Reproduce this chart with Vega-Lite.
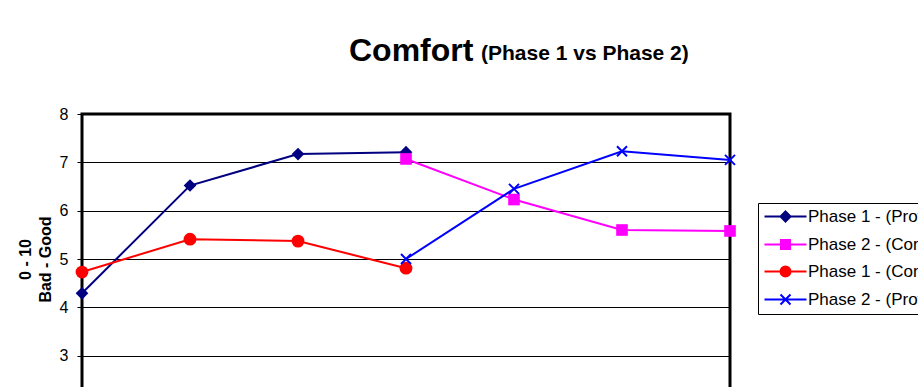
{
  "$schema": "https://vega.github.io/schema/vega-lite/v6.json",
  "width": 648,
  "height": 290,
  "padding": {"left": 17, "top": 35, "right": 0, "bottom": 0},
  "background": "white",
  "title": {
    "text": "Comfort",
    "subtitle": "(Phase 1 vs Phase 2)",
    "anchor": "start",
    "frame": "group",
    "dx": 267,
    "font": "Liberation Sans",
    "fontSize": 32,
    "fontWeight": "bold",
    "color": "black",
    "subtitleFont": "Liberation Sans",
    "subtitleFontSize": 21,
    "subtitleFontWeight": "bold",
    "subtitleColor": "black",
    "subtitlePadding": -27,
    "offset": 38,
    "encode": {"subtitle": {"update": {"dx": {"value": 399}, "dy": {"value": 2}}}}
  },
  "config": {
    "view": {"stroke": "black", "strokeWidth": 3},
    "font": "Liberation Sans",
    "legend": {
      "strokeColor": "black",
      "padding": 5,
      "labelFont": "Liberation Sans",
      "labelFontSize": 17,
      "labelColor": "black",
      "labelOffset": 28,
      "labelLimit": 400,
      "symbolSize": 100,
      "symbolStrokeWidth": 2,
      "symbolOpacity": 1,
      "rowPadding": 9
    }
  },
  "data": {
    "values": [
      {"x": 1, "series": "Phase 1 - (Prototype)", "value": 4.29},
      {"x": 2, "series": "Phase 1 - (Prototype)", "value": 6.52},
      {"x": 3, "series": "Phase 1 - (Prototype)", "value": 7.17},
      {"x": 4, "series": "Phase 1 - (Prototype)", "value": 7.21},
      {"x": 4, "series": "Phase 2 - (Control)", "value": 7.07},
      {"x": 5, "series": "Phase 2 - (Control)", "value": 6.23},
      {"x": 6, "series": "Phase 2 - (Control)", "value": 5.6},
      {"x": 7, "series": "Phase 2 - (Control)", "value": 5.58},
      {"x": 1, "series": "Phase 1 - (Control)", "value": 4.73},
      {"x": 2, "series": "Phase 1 - (Control)", "value": 5.41},
      {"x": 3, "series": "Phase 1 - (Control)", "value": 5.37},
      {"x": 4, "series": "Phase 1 - (Control)", "value": 4.81},
      {"x": 4, "series": "Phase 2 - (Prototype)", "value": 5.0},
      {"x": 5, "series": "Phase 2 - (Prototype)", "value": 6.45},
      {"x": 6, "series": "Phase 2 - (Prototype)", "value": 7.23},
      {"x": 7, "series": "Phase 2 - (Prototype)", "value": 7.05}
    ]
  },
  "encoding": {
    "x": {"field": "x", "type": "quantitative", "scale": {"domain": [1, 7], "nice": false, "zero": false}, "axis": null},
    "y": {
      "field": "value",
      "type": "quantitative",
      "scale": {"domain": [2, 8], "nice": false, "zero": false},
      "axis": {
        "values": [2, 3, 4, 5, 6, 7, 8],
        "title": ["0 - 10", "Bad - Good"],
        "titleFont": "Liberation Sans",
        "titleFontSize": 16,
        "titleFontWeight": "bold",
        "titleColor": "black",
        "titleLineHeight": 20,
        "titlePadding": 6,
        "labelFont": "Liberation Sans",
        "labelFontSize": 16,
        "labelColor": "black",
        "labelPadding": 9,
        "tickColor": "black",
        "tickSize": 5,
        "domain": false,
        "grid": true,
        "gridColor": "black",
        "gridOpacity": 1,
        "gridWidth": 1
      }
    }
  },
  "layer": [
    {
      "transform": [{"filter": "datum.series === 'Phase 1 - (Prototype)'"}],
      "mark": {"type": "line", "strokeWidth": 2, "color": "#000080"}
    },
    {
      "transform": [{"filter": "datum.series === 'Phase 2 - (Control)'"}],
      "mark": {"type": "line", "strokeWidth": 2, "color": "#FF00FF"}
    },
    {
      "transform": [{"filter": "datum.series === 'Phase 1 - (Control)'"}],
      "mark": {"type": "line", "strokeWidth": 2, "color": "#FF0000"}
    },
    {
      "transform": [{"filter": "datum.series === 'Phase 2 - (Prototype)'"}],
      "mark": {"type": "line", "strokeWidth": 2, "color": "#0000FF"}
    },
    {
      "transform": [{"filter": "datum.series === 'Phase 1 - (Prototype)'"}],
      "mark": {"type": "point", "filled": true, "shape": "diamond", "size": 160, "opacity": 1, "color": "#000080"}
    },
    {
      "transform": [{"filter": "datum.series === 'Phase 2 - (Control)'"}],
      "mark": {"type": "point", "filled": true, "shape": "square", "size": 135, "opacity": 1, "color": "#FF00FF"}
    },
    {
      "transform": [{"filter": "datum.series === 'Phase 1 - (Control)'"}],
      "mark": {"type": "point", "filled": true, "shape": "circle", "size": 165, "opacity": 1, "color": "#FF0000"}
    },
    {
      "transform": [{"filter": "datum.series === 'Phase 2 - (Prototype)'"}],
      "mark": {"type": "point", "filled": false, "shape": "M-1,-1L1,1M-1,1L1,-1", "size": 100, "strokeWidth": 2, "opacity": 1, "color": "#0000FF"}
    },
    {
      "mark": {"type": "point", "opacity": 0},
      "encoding": {
        "fill": {
          "field": "series",
          "type": "nominal",
          "sort": ["Phase 1 - (Prototype)", "Phase 2 - (Control)", "Phase 1 - (Control)", "Phase 2 - (Prototype)"],
          "scale": {
            "domain": ["Phase 1 - (Prototype)", "Phase 2 - (Control)", "Phase 1 - (Control)", "Phase 2 - (Prototype)"],
            "range": ["#000080", "#FF00FF", "#FF0000", "#0000FF"]
          },
          "legend": {"title": null, "orient": "none", "legendX": 676, "legendY": 89}
        },
        "stroke": {
          "field": "series",
          "type": "nominal",
          "sort": ["Phase 1 - (Prototype)", "Phase 2 - (Control)", "Phase 1 - (Control)", "Phase 2 - (Prototype)"],
          "scale": {
            "domain": ["Phase 1 - (Prototype)", "Phase 2 - (Control)", "Phase 1 - (Control)", "Phase 2 - (Prototype)"],
            "range": ["#000080", "#FF00FF", "#FF0000", "#0000FF"]
          },
          "legend": {"title": null, "orient": "none", "legendX": 676, "legendY": 89}
        },
        "shape": {
          "field": "series",
          "type": "nominal",
          "sort": ["Phase 1 - (Prototype)", "Phase 2 - (Control)", "Phase 1 - (Control)", "Phase 2 - (Prototype)"],
          "scale": {
            "domain": ["Phase 1 - (Prototype)", "Phase 2 - (Control)", "Phase 1 - (Control)", "Phase 2 - (Prototype)"],
            "range": [
              "M-1.4,0H7M2.8,-1L3.8,0L2.8,1L1.8,0Z",
              "M-1.4,0H7M1.9,-0.9H3.7V0.9H1.9Z",
              "M-1.4,0H7M3.8,0A1,1 0 1,1 1.8,0A1,1 0 1,1 3.8,0Z",
              "M-1.4,0H7M1.8,-1L3.8,1M1.8,1L3.8,-1"
            ]
          },
          "legend": {"title": null, "orient": "none", "legendX": 676, "legendY": 89}
        }
      }
    }
  ]
}
